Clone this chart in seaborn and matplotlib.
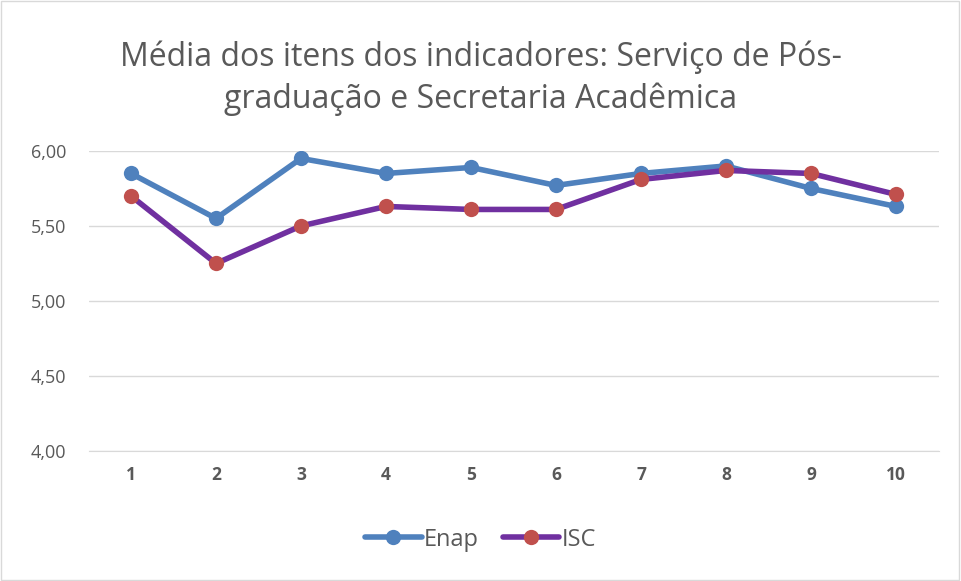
import pandas as pd
import seaborn as sns
import matplotlib.pyplot as plt
from matplotlib.patches import Rectangle

items = [1, 2, 3, 4, 5, 6, 7, 8, 9, 10]
enap = [5.85, 5.55, 5.95, 5.85, 5.89, 5.77, 5.85, 5.90, 5.75, 5.63]
isc = [5.70, 5.25, 5.50, 5.63, 5.61, 5.61, 5.81, 5.87, 5.85, 5.71]
y_ticks = [4.0, 4.5, 5.0, 5.5, 6.0]

df = pd.DataFrame({'item': items, 'Enap': enap, 'ISC': isc})

sns.set_style('white')
plt.rcParams['font.family'] = ['Open Sans', 'DejaVu Sans']

fig = plt.figure(figsize=(9.61, 5.81), dpi=100)
ax = fig.add_axes([0.0921, 0.2238, 0.8845, 0.5164])

sns.lineplot(x='item', y='Enap', data=df, ax=ax, color='#4F81BD', linewidth=4,
  marker='o', markersize=11, markerfacecolor='#4F81BD', markeredgewidth=0, label='Enap')
sns.lineplot(x='item', y='ISC', data=df, ax=ax, color='#7030A0', linewidth=4,
  marker='o', markersize=11, markerfacecolor='#C0504D', markeredgewidth=0, label='ISC')

ax.set_xlim(0.5, 10.5)
ax.set_ylim(4.0, 6.0)
ax.set_xticks(items)
ax.set_xticklabels([str(i) for i in items], fontsize=12.5, fontweight='bold', color='#595959')
ax.set_yticks(y_ticks)
ax.set_yticklabels([f'{v:.2f}'.replace('.', ',') for v in y_ticks], fontsize=13, color='#595959')
ax.tick_params(axis='y', length=0, pad=16)
ax.tick_params(axis='x', length=0, pad=11)
ax.yaxis.grid(True, color='#D9D9D9', linewidth=1)
ax.set_axisbelow(True)
ax.set_xlabel('')
ax.set_ylabel('')
for side in ['top', 'right', 'left']:
  ax.spines[side].set_visible(False)
ax.spines['bottom'].set_color('#D9D9D9')

ax.legend_.remove()
handles, labels = ax.get_legend_handles_labels()
fig.legend(handles, labels, loc='center', bbox_to_anchor=(0.5, 0.071), ncol=2, frameon=False,
  fontsize=17, labelcolor='#595959', handlelength=2.4, handletextpad=0.1, columnspacing=1.0)

fig.text(0.5, 0.865, 'Média dos itens dos indicadores: Serviço de Pós-\ngraduação e Secretaria Acadêmica',
  ha='center', va='center', fontsize=23, color='#595959', linespacing=1.33)

fig.patches.append(Rectangle((0.001, 0.001), 0.997, 0.997, transform=fig.transFigure,
  fill=False, edgecolor='#D9D9D9', linewidth=1))

fig.savefig('out.png', dpi=100)
